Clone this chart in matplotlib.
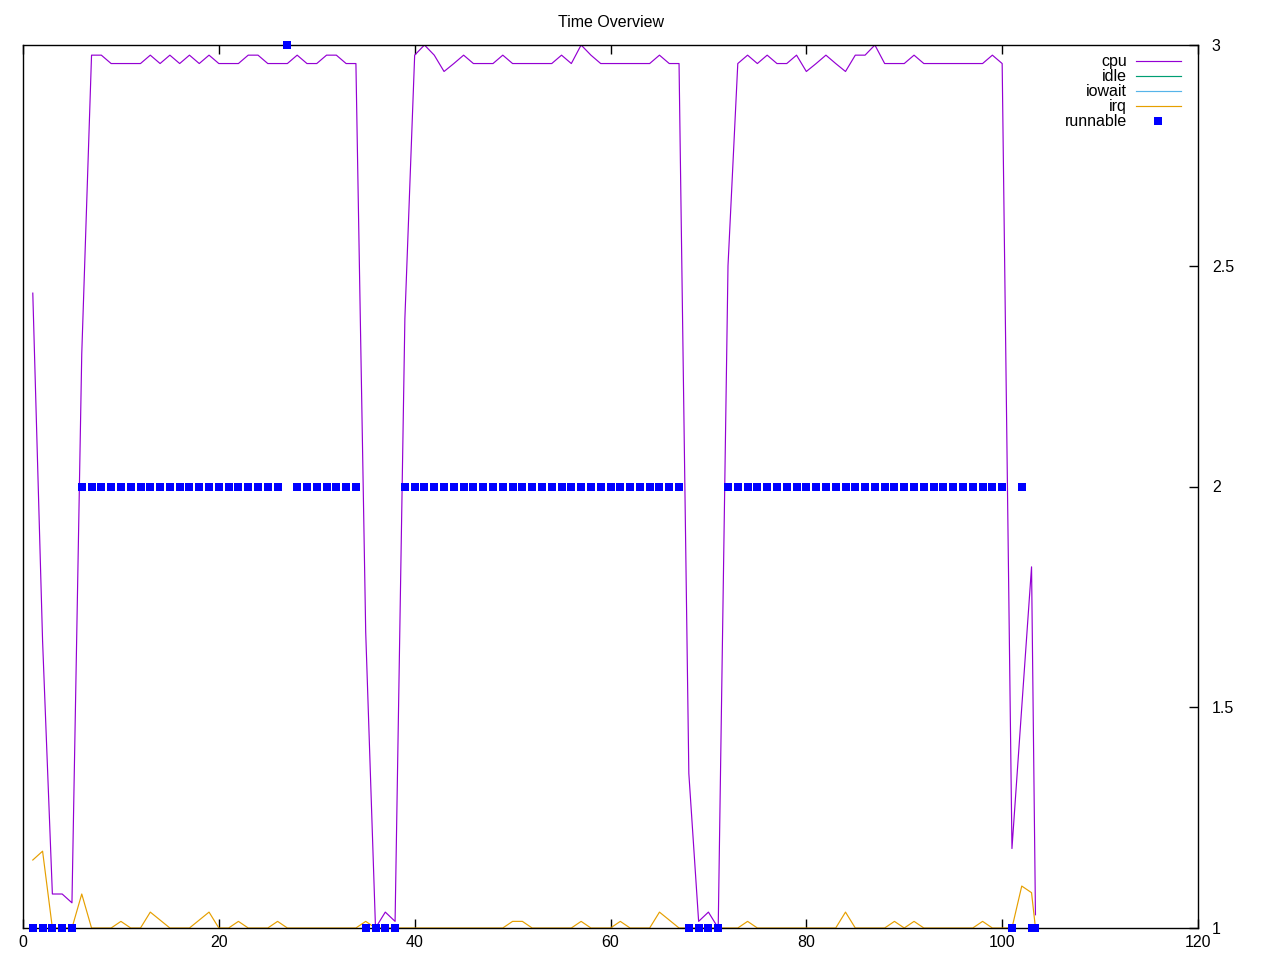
import matplotlib
matplotlib.use("Agg")
import matplotlib.pyplot as plt

plt.rcParams['font.family'] = ['Liberation Sans', 'DejaVu Sans']

# sample times (last sample is a partial interval)
samples = list(range(1, 104)) + [103.4]

cpu = [2.438, 1.65, 1.077, 1.077, 1.057, 2.30, 2.977, 2.977, 2.958, 2.958,
       2.958, 2.958, 2.977, 2.958, 2.977, 2.958, 2.977, 2.958, 2.977, 2.958,
       2.958, 2.958, 2.977, 2.977, 2.958, 2.958, 2.958, 2.977, 2.958, 2.958,
       2.977, 2.977, 2.958, 2.958, 1.67, 1.0, 1.036, 1.015, 2.38, 2.977,
       3.0, 2.977, 2.94, 2.958, 2.977, 2.958, 2.958, 2.958, 2.977, 2.958,
       2.958, 2.958, 2.958, 2.958, 2.977, 2.958, 3.0, 2.977, 2.958, 2.958,
       2.958, 2.958, 2.958, 2.958, 2.977, 2.958, 2.958, 1.35, 1.015, 1.036,
       1.0, 2.5, 2.958, 2.977, 2.958, 2.977, 2.958, 2.958, 2.977, 2.94,
       2.958, 2.977, 2.958, 2.94, 2.977, 2.977, 3.0, 2.958, 2.958, 2.958,
       2.977, 2.958, 2.958, 2.958, 2.958, 2.958, 2.958, 2.958, 2.977, 2.958,
       1.18, 1.5, 1.818, 1.03]

irq = [1.154, 1.174, 1.0, 1.0, 1.0, 1.077, 1.0, 1.0, 1.0, 1.015,
       1.0, 1.0, 1.036, 1.018, 1.0, 1.0, 1.0, 1.018, 1.036, 1.0,
       1.0, 1.015, 1.0, 1.0, 1.0, 1.015, 1.0, 1.0, 1.0, 1.0,
       1.0, 1.0, 1.0, 1.0, 1.015, 1.0, 1.0, 1.0, 1.0, 1.0,
       1.0, 1.0, 1.0, 1.0, 1.0, 1.0, 1.0, 1.0, 1.0, 1.015,
       1.015, 1.0, 1.0, 1.0, 1.0, 1.0, 1.015, 1.0, 1.0, 1.0,
       1.015, 1.0, 1.0, 1.0, 1.036, 1.018, 1.0, 1.0, 1.0, 1.0,
       1.0, 1.0, 1.0, 1.015, 1.0, 1.0, 1.0, 1.0, 1.0, 1.0,
       1.0, 1.0, 1.0, 1.036, 1.0, 1.0, 1.0, 1.0, 1.015, 1.0,
       1.015, 1.0, 1.0, 1.0, 1.0, 1.0, 1.0, 1.015, 1.0, 1.0,
       1.0, 1.095, 1.08, 1.0]

runnable = [1, 1, 1, 1, 1, 2, 2, 2, 2, 2,
            2, 2, 2, 2, 2, 2, 2, 2, 2, 2,
            2, 2, 2, 2, 2, 2, 3, 2, 2, 2,
            2, 2, 2, 2, 1, 1, 1, 1, 2, 2,
            2, 2, 2, 2, 2, 2, 2, 2, 2, 2,
            2, 2, 2, 2, 2, 2, 2, 2, 2, 2,
            2, 2, 2, 2, 2, 2, 2, 1, 1, 1,
            1, 2, 2, 2, 2, 2, 2, 2, 2, 2,
            2, 2, 2, 2, 2, 2, 2, 2, 2, 2,
            2, 2, 2, 2, 2, 2, 2, 2, 2, 2,
            1, 2, 1, 1]

# idle and iowait stay outside the visible range
idle = []
iowait = []

x_ticks = [0, 20, 40, 60, 80, 100, 120]
y_ticks = [1, 1.5, 2, 2.5, 3]

fig = plt.figure(figsize=(12.8, 9.6), dpi=100)
ax = fig.add_axes([23/1280, 1 - 928/960, (1198 - 23)/1280, (928 - 45)/960])

ax.plot(samples, cpu, color='#9400d3', lw=0.85, label='cpu')
ax.plot(idle, idle, color='#009e73', lw=0.85, label='idle')
ax.plot(iowait, iowait, color='#56b4e9', lw=0.85, label='iowait')
ax.plot(samples, irq, color='#e69f00', lw=0.85, label='irq')
ax.plot(samples, runnable, 's', color='#0000ff', ms=5.8, mew=0,
        clip_on=False, label='runnable', zorder=3)

ax.set_xlim(0, 120)
ax.set_ylim(1, 3)
ax.set_xticks(x_ticks)
ax.set_xticklabels([str(t) for t in x_ticks])
ax.set_yticks(y_ticks)
ax.set_yticklabels(['1', '1.5', '2', '2.5', '3'])
ax.tick_params(axis='x', direction='in', length=6.5, width=1, top=True,
               labelsize=11.5, pad=5)
ax.tick_params(axis='y', direction='in', length=6.5, width=1, left=False,
               right=True, labelleft=False, labelright=True,
               labelsize=11.5, pad=10)
for s in ax.spines.values():
    s.set_linewidth(1)

ax.set_title('Time Overview', fontsize=11.5, pad=13)

leg = ax.legend(loc='upper right', bbox_to_anchor=(0.996, 1.004),
                frameon=False, markerfirst=False, fontsize=11.5,
                handlelength=2.8, handletextpad=0.55, labelspacing=0.0,
                borderpad=0.3, numpoints=1)
for t in leg.get_texts():
    t.set_ha('right')

fig.savefig('out.png', dpi=100)
